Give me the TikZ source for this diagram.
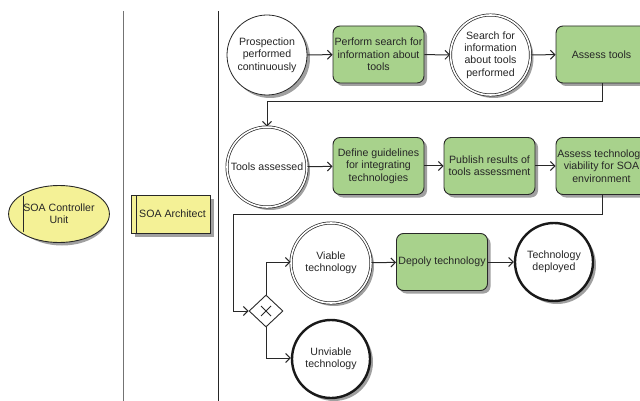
\documentclass[tikz,border=0pt]{standalone}
\usepackage{fontspec}
\setmainfont{Liberation Sans}
\usetikzlibrary{arrows.meta,shapes.geometric,positioning}
\definecolor{actgreen}{RGB}{168,210,140}
\definecolor{roleyellow}{RGB}{244,241,150}
\definecolor{shadowgray}{RGB}{160,160,160}
\definecolor{linegray}{RGB}{40,40,40}
\tikzset{
  x=1pt,y=-1pt,
  every node/.style={font=\fontsize{10.6pt}{12.4pt}\selectfont, text=black!85, align=center, inner sep=0pt},
  actbox/.style={draw=linegray, line width=0.9pt, fill=actgreen, rounded corners=7pt,
     minimum width=91pt, minimum height=57pt,
     preaction={fill=shadowgray, transform canvas={shift={(3pt,-3pt)}}}},
  evthin/.style={circle, draw=linegray, line width=0.8pt, fill=white, minimum size=80pt,
     preaction={fill=shadowgray, transform canvas={shift={(3pt,-3pt)}}}},
  evdouble/.style={circle, draw=linegray, line width=0.7pt, fill=white, minimum size=80pt,
     double distance=1.6pt, double=white,
     preaction={fill=shadowgray, transform canvas={shift={(3pt,-3pt)}}}},
  evthick/.style={circle, draw=black!90, line width=2.4pt, fill=white, minimum size=78pt,
     preaction={fill=shadowgray, transform canvas={shift={(3pt,-3pt)}}}},
  flow/.style={draw=linegray, line width=1pt, -{Straight Barb[length=4.5pt,width=9pt,line width=1pt]}},
  flowplain/.style={draw=linegray, line width=1pt},
  lane/.style={line width=1pt},
}
\begin{document}
\begin{tikzpicture}
\useasboundingbox (0,0) rectangle (640,401);
\clip (0,0) rectangle (640,401);
% lanes
\draw[lane, draw=black!55] (123,11) -- (123,401);
\draw[lane, draw=black!85] (218,11) -- (218,401);
% roles
\fill[shadowgray] (62,217) ellipse [x radius=46, y radius=28.5];
\node[ellipse, draw=linegray, line width=0.9pt, fill=roleyellow, minimum width=91pt, minimum height=57pt] (ctrl) at (59,214) {SOA Controller\\Unit};
\begin{scope}
\clip (59,214) ellipse [x radius=45.5, y radius=28.5];
\draw[linegray, line width=0.9pt] (23,180) -- (23,250);
\end{scope}
\fill[shadowgray] (135,199) rectangle (214,237);
\node[draw=linegray, line width=0.9pt, fill=roleyellow, minimum width=79pt, minimum height=38pt] (arch) at (170.5,214) {\hspace{4pt}SOA Architect};
\draw[linegray, line width=0.9pt] (136,195) -- (136,233);
% row 1
\node[evthin] (pros) at (267,55) {Prospection\\performed\\continuously};
\node[actbox] (perf) at (378.5,54.5) {Perform search for\\information about\\tools};
\node[evdouble] (srch) at (490.5,55) {Search for\\information\\about tools\\performed};
\node[actbox] (asst) at (601.5,54.5) {Assess tools};
% row 2
\node[evdouble] (tass) at (267,167) {Tools assessed};
\node[actbox] (defg) at (378.5,166) {Define guidelines\\for integrating\\technologies};
\node[actbox] (publ) at (489.5,166) {Publish results of\\tools assessment};
\node[actbox] (viab) at (601.5,166) {Assess technology\\viability for SOA\\environment};
% row 3
\node[diamond, draw=linegray, line width=0.9pt, fill=white, minimum width=34pt, minimum height=32pt] (gw) at (266,311) {};
\draw[linegray, line width=0.9pt] (261,306) -- (271,316) (261,316) -- (271,306);
\node[evdouble] (viable) at (331,263) {Viable\\technology};
\node[actbox] (depl) at (442,262) {Depoly technology};
\node[evthick] (tdep) at (554,262) {Technology\\deployed};
\node[evthick] (unv) at (331,359) {Unviable\\technology};
% connectors
\coordinate (c1) at (602,102);
\coordinate (c2) at (267,102);
\coordinate (c3) at (602,214);
\coordinate (c4) at (233,214);
\coordinate (c5) at (233,311);
\coordinate (c6) at (266,262);
\coordinate (c7) at (266,358);
\draw[flow] (pros) -- (perf);
\draw[flow] (perf) -- (srch);
\draw[flow] (srch) -- (asst);
\draw[flow] (asst.south -| c1) -- (c1) -- (c2) -- (tass);
\draw[flow] (tass) -- (defg);
\draw[flow] (defg) -- (publ);
\draw[flow] (publ) -- (viab);
\draw[flow] (viab.south -| c3) -- (c3) -- (c4) -- (c5) -- (gw.west);
\draw[flow] (gw.north) -- (c6) -- (viable.west |- c6);
\draw[flow] (gw.south) -- (c7) -- (unv.west |- c7);
\draw[flow] (viable) -- (depl);
\draw[flow] (depl) -- (tdep);
\end{tikzpicture}
\end{document}
